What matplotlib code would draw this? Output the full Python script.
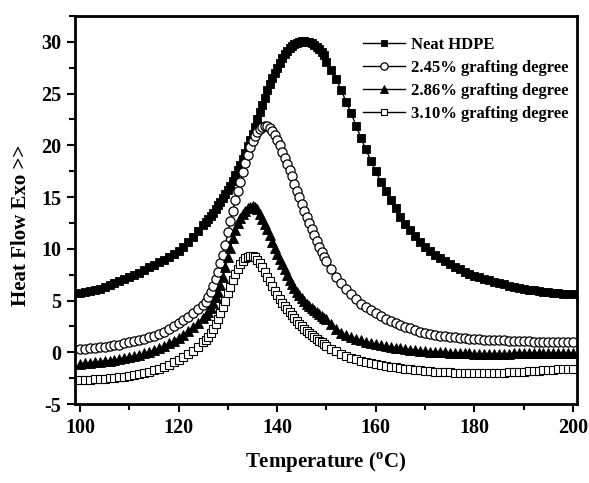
import numpy as np
import matplotlib
matplotlib.use("Agg")
import matplotlib.pyplot as plt
from matplotlib.ticker import MultipleLocator

plt.rcParams['font.family'] = ['Liberation Serif', 'DejaVu Serif']
plt.rcParams['font.weight'] = 'bold'
plt.rcParams['mathtext.fontset'] = 'custom'
plt.rcParams['mathtext.rm'] = 'Liberation Serif:bold'
plt.rcParams['mathtext.bf'] = 'Liberation Serif:bold'
plt.rcParams['axes.unicode_minus'] = False

# temperature sampling grid (°C)
temperature = np.concatenate([np.arange(100, 125, 1.0),
                              np.arange(125, 150, 0.5),
                              np.arange(150, 201, 1.0)])

labels = ['Neat HDPE', '2.45% grafting degree',
          '2.86% grafting degree', '3.10% grafting degree']

neat_hdpe = [
    5.7, 5.8, 5.9, 6.0, 6.15, 6.3, 6.5, 6.7, 6.9, 7.1,
    7.3, 7.5, 7.7, 7.95, 8.2, 8.45, 8.7, 8.95, 9.2, 9.5,
    9.8, 10.2, 10.65, 11.15, 11.7,
    12.3, 12.6, 12.9, 13.2, 13.5, 13.85, 14.2, 14.55, 14.9, 15.3,
    15.7, 16.1, 16.6, 17.1, 17.6, 18.1, 18.7, 19.3, 19.9, 20.5,
    21.1, 21.8, 22.5, 23.2, 23.9, 24.6, 25.3, 25.9, 26.5, 27.0,
    27.5, 28.0, 28.4, 28.8, 29.1, 29.4, 29.6, 29.8, 29.9, 30.0,
    30.05, 30.05, 30.0, 29.95, 29.85, 29.7, 29.5, 29.3, 29.0, 28.7,
    28.1, 27.3, 26.4, 25.3, 24.2, 23.1, 21.9, 20.7, 19.6, 18.5,
    17.5, 16.5, 15.6, 14.7, 13.9, 13.1, 12.4, 11.8, 11.2, 10.7,
    10.2, 9.8, 9.4, 9.1, 8.8, 8.5, 8.25, 8.0, 7.8, 7.6,
    7.4, 7.25, 7.1, 6.95, 6.8, 6.7, 6.55, 6.45, 6.35, 6.25,
    6.15, 6.05, 6.0, 5.9, 5.85, 5.8, 5.75, 5.7, 5.65, 5.6,
    5.6]

graft_245 = [
    0.3, 0.35, 0.4, 0.45, 0.5, 0.55, 0.6, 0.7, 0.75, 0.85,
    0.95, 1.05, 1.15, 1.3, 1.45, 1.6, 1.8, 2.0, 2.25, 2.5,
    2.8, 3.1, 3.45, 3.8, 4.2,
    4.6, 4.9, 5.3, 5.8, 6.4, 7.1, 7.8, 8.6, 9.4, 10.4,
    11.6, 12.7, 13.7, 14.7, 15.6, 16.5, 17.4, 18.3, 19.1, 19.8,
    20.4, 20.9, 21.3, 21.6, 21.8, 21.9, 21.9, 21.7, 21.4, 21.0,
    20.5, 20.0, 19.4, 18.8, 18.2, 17.6, 17.0, 16.3, 15.6, 15.0,
    14.3, 13.7, 13.1, 12.5, 11.9, 11.3, 10.8, 10.2, 9.7, 9.2,
    8.8, 8.0, 7.3, 6.7, 6.1, 5.6, 5.1, 4.7, 4.4, 4.1,
    3.8, 3.5, 3.25, 3.0, 2.8, 2.6, 2.45, 2.3, 2.15, 2.0,
    1.9, 1.8, 1.7, 1.6, 1.55, 1.5, 1.45, 1.4, 1.35, 1.3,
    1.28, 1.25, 1.22, 1.2, 1.18, 1.16, 1.14, 1.12, 1.1, 1.08,
    1.06, 1.05, 1.04, 1.03, 1.02, 1.01, 1.0, 1.0, 1.0, 1.0,
    1.0]

graft_286 = [
    -1.1, -1.05, -1.0, -0.95, -0.9, -0.85, -0.8, -0.7, -0.65, -0.55,
    -0.45, -0.35, -0.25, -0.1, 0.05, 0.2, 0.4, 0.6, 0.85, 1.1,
    1.4, 1.7, 2.05, 2.4, 2.8,
    3.3, 3.6, 3.9, 4.3, 4.8, 5.3, 5.8, 6.5, 7.3, 8.2,
    9.2, 10.1, 11.0, 11.8, 12.5, 13.0, 13.4, 13.7, 13.9, 14.05,
    14.1, 14.05, 13.8, 13.4, 12.9, 12.4, 11.9, 11.3, 10.7, 10.1,
    9.5, 9.0, 8.5, 8.0, 7.5, 7.0, 6.6, 6.2, 5.8, 5.5,
    5.2, 4.95, 4.7, 4.5, 4.3, 4.1, 3.9, 3.7, 3.5, 3.35,
    3.2, 2.7, 2.25, 1.9, 1.65, 1.45, 1.3, 1.15, 1.0, 0.9,
    0.8, 0.7, 0.6, 0.52, 0.45, 0.38, 0.32, 0.26, 0.2, 0.15,
    0.1, 0.06, 0.03, 0.0, -0.02, -0.04, -0.06, -0.08, -0.1, -0.11,
    -0.12, -0.12, -0.12, -0.12, -0.12, -0.12, -0.12, -0.12, -0.11, -0.11,
    -0.11, -0.1, -0.1, -0.1, -0.1, -0.1, -0.1, -0.1, -0.1, -0.1,
    -0.1]

graft_310 = [
    -2.7, -2.68, -2.66, -2.63, -2.6, -2.56, -2.52, -2.47, -2.42, -2.36,
    -2.3, -2.22, -2.13, -2.03, -1.9, -1.75, -1.58, -1.4, -1.2, -0.98,
    -0.74, -0.47, -0.17, 0.15, 0.5,
    0.95, 1.2, 1.5, 1.85, 2.25, 2.7, 3.2, 3.75, 4.35, 5.0,
    5.7, 6.35, 7.0, 7.55, 8.05, 8.5, 8.85, 9.1, 9.25, 9.3,
    9.3, 9.2, 8.95, 8.6, 8.2, 7.75, 7.3, 6.85, 6.4, 5.95,
    5.5, 5.15, 4.8, 4.5, 4.2, 3.9, 3.6, 3.3, 3.0, 2.75,
    2.5, 2.25, 2.05, 1.85, 1.65, 1.45, 1.3, 1.1, 0.95, 0.8,
    0.65, 0.35, 0.08, -0.15, -0.35, -0.52, -0.67, -0.8, -0.92, -1.03,
    -1.13, -1.22, -1.3, -1.38, -1.45, -1.52, -1.58, -1.64, -1.69, -1.74,
    -1.78, -1.82, -1.86, -1.89, -1.92, -1.94, -1.96, -1.98, -1.99, -2.0,
    -2.0, -2.0, -2.0, -2.0, -1.99, -1.98, -1.96, -1.94, -1.92, -1.9,
    -1.87, -1.84, -1.81, -1.78, -1.75, -1.72, -1.69, -1.66, -1.63, -1.6,
    -1.57]

series = [neat_hdpe, graft_245, graft_286, graft_310]
for s in series:
    assert len(s) == len(temperature), len(s)

styles = [
    dict(marker='s', markersize=6.2, markerfacecolor='black', markeredgecolor='black', markeredgewidth=0.6),
    dict(marker='o', markersize=6.6, markerfacecolor='white', markeredgecolor='black', markeredgewidth=0.9),
    dict(marker='^', markersize=7.4, markerfacecolor='black', markeredgecolor='black', markeredgewidth=0.6),
    dict(marker='s', markersize=5.8, markerfacecolor='white', markeredgecolor='black', markeredgewidth=0.8),
]

fig = plt.figure(figsize=(5.89, 4.83), dpi=100)
ax = fig.add_axes([75/589, 1-404/483, (577-75)/589, (404-16)/483])

for s, st, lab in zip(series, styles, labels):
    ax.plot(temperature, s, color='black', linewidth=1.0, label=lab, **st)

ax.set_xlim(99.0, 200.8)
ax.set_ylim(-5, 32.5)
ax.xaxis.set_major_locator(MultipleLocator(20))
ax.xaxis.set_minor_locator(MultipleLocator(10))
ax.yaxis.set_major_locator(MultipleLocator(5))
ax.yaxis.set_minor_locator(MultipleLocator(2.5))
ax.tick_params(which='both', direction='out', top=False, right=False, width=1.5)
ax.tick_params(which='major', length=6, labelsize=14.5, pad=4)
ax.tick_params(which='minor', length=4)
for lab in ax.get_xticklabels() + ax.get_yticklabels():
    lab.set_fontweight('bold')
for sp in ax.spines.values():
    sp.set_linewidth(2.0)

ax.set_xlabel(r'Temperature ($^{\mathregular{o}}$C)', fontsize=15, fontweight='bold', labelpad=9)
ax.set_ylabel('Heat Flow Exo >>', fontsize=15, fontweight='bold')
ax.yaxis.set_label_coords((31 - 75) / 502, (404 - 225) / 388)

leg = ax.legend(loc='upper left', bbox_to_anchor=(0.574, 0.947), frameon=False,
                prop={'family': 'Liberation Serif', 'weight': 'bold', 'size': 12.0},
                handlelength=2.5, handletextpad=0.35, labelspacing=0.42,
                borderpad=0, borderaxespad=0, markerscale=0.8)

fig.savefig('out.png', dpi=100)
